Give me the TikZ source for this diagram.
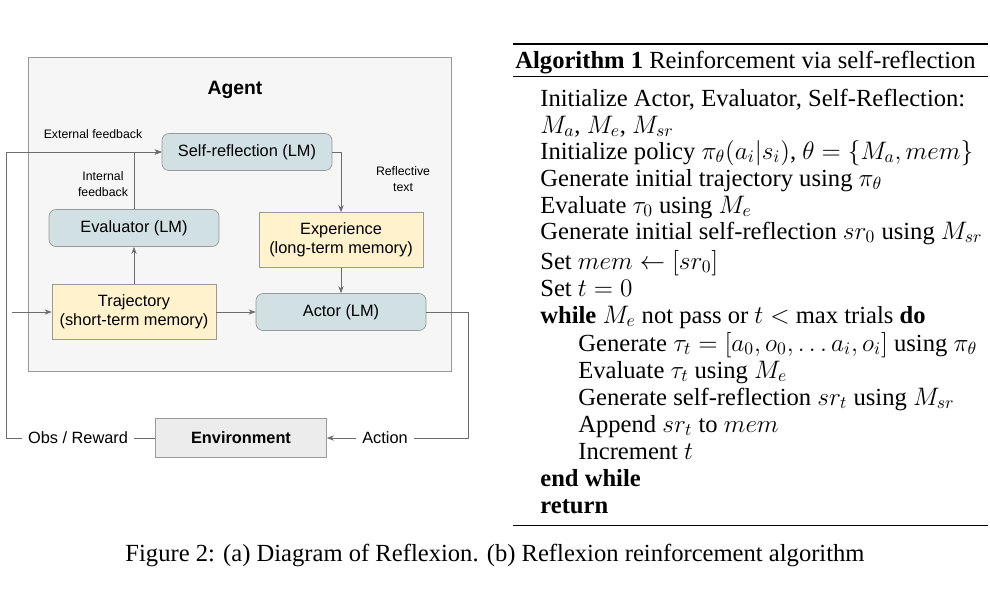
\documentclass[tikz,border=0pt]{standalone}
\usepackage{fontspec}
\setmainfont{Liberation Serif}
\newfontfamily\arial{Liberation Sans}
\usetikzlibrary{arrows.meta}
\definecolor{lmblue}{HTML}{D0E0E3}
\definecolor{memyellow}{HTML}{FFF2CC}
\tikzset{
  lmbox/.style={draw=gray!80,fill=lmblue,rounded corners=4pt,minimum width=170\px,minimum height=37\px,font=\arial\fontsize{9.3}{11}\selectfont},
  membox/.style={draw=gray!80,fill=memyellow,minimum width=164\px,minimum height=55\px,align=center,font=\arial\fontsize{9.3}{11}\selectfont},
  lab/.style={font=\arial\fontsize{7}{9}\selectfont,align=center},
  flow/.style={draw=gray!85!black,-{Stealth[length=4pt,width=3pt]}},
  algline/.style={anchor=base west,inner sep=0pt,font=\fontsize{14}{16}\selectfont},
}
\newlength\px \setlength\px{0.02cm}
\begin{document}
\begin{tikzpicture}[x=0.02cm,y=-0.02cm]
  \useasboundingbox (0,0) rectangle (990,600);
  % agent frame
  \draw[gray!80,fill=gray!7] (28,57) rectangle (451,371);
  \node[font=\arial\bfseries\fontsize{11}{13}\selectfont] (agent) at (235,90) {Agent};
  \node[lmbox] (sr) at (247,152) {Self-reflection (LM)};
  \node[lmbox] (ev) at (134,228) {Evaluator (LM)};
  \node[membox] (exp) at (341,240) {Experience\\(long-term memory)};
  \node[membox] (traj) at (134,312) {Trajectory\\(short-term memory)};
  \node[lmbox] (act) at (341,312) {Actor (LM)};
  \node[draw=gray!80,fill=gray!15,minimum width=171\px,minimum height=39\px,font=\arial\bfseries\fontsize{9.3}{11}\selectfont] (env) at (241,438) {Environment};
  % labels
  \node[lab] (ext) at (93,134) {External feedback};
  \node[lab] (int) at (103,184) {Internal\\feedback};
  \node[lab] (refl) at (403,179) {Reflective\\text};
  \node[font=\arial\fontsize{9.3}{11}\selectfont] (obs) at (78,438) {Obs / Reward};
  \node[font=\arial\fontsize{9.3}{11}\selectfont] (acn) at (385,438) {Action};
  \coordinate (tl) at (6,152);
  \coordinate (bl) at (6,438);
  \coordinate (ml) at (12,312);
  \coordinate (ar) at (468,312);
  \coordinate (br) at (468,438);
  % connectors
  \draw[flow] (bl) -- (tl) -- (sr.west);
  \draw[flow] (ev.north) -- (134,152) -- (sr.west);
  \draw[flow] (sr.east) -| (exp.north);
  \draw[flow] (exp.south) -- (act.north);
  \draw[flow] (traj.north) -- (ev.south);
  \draw[flow] (traj.east) -- (act.west);
  \draw[flow] (ml) -- (traj.west);
  \draw[gray!85!black] (act.east) -- (ar) -- (br) -- (acn.east);
  \draw[flow] (acn.west) -- (env.east);
  \draw[gray!85!black] (env.west) -- (obs.east);
  \draw[gray!85!black] (obs.west) -- (bl);
  % algorithm
  \draw[line width=0.8pt] (513,44) -- (988,44);
  \draw[line width=0.5pt] (513,76) -- (988,76);
  \draw[line width=0.5pt] (513,525) -- (988,525);
  \node[algline] (title) at (515,68) {\textbf{Algorithm 1} Reinforcement via self-reflection};
  \foreach \y/\x/\t [count=\i] in {
    106/540/{Initialize Actor, Evaluator, Self-Reflection:},
    133/540/{$M_a$, $M_e$, $M_{sr}$},
    159/540/{Initialize policy $\pi_\theta(a_i|s_i)$, $\theta=\{M_a, mem\}$},
    186/540/{Generate initial trajectory using $\pi_\theta$},
    213/540/{Evaluate $\tau_0$ using $M_e$},
    239/540/{Generate initial self-reflection $sr_0$ using $M_{sr}$},
    269/540/{Set $mem \leftarrow [sr_0]$},
    296/540/{Set $t=0$},
    323/540/{\textbf{while} $M_e$ not pass or $t <$ max trials \textbf{do}},
    351/578/{Generate $\tau_t=[a_0,o_0,\dots a_i,o_i]$ using $\pi_\theta$},
    378/578/{Evaluate $\tau_t$ using $M_e$},
    405/578/{Generate self-reflection $sr_t$ using $M_{sr}$},
    432/578/{Append $sr_t$ to $mem$},
    459/578/{Increment $t$},
    486/540/{\textbf{end while}},
    513/540/{\textbf{return}}}
    \node[algline] (l\i) at (\x,\y) {\t};
  \node[font=\fontsize{14}{16}\selectfont] (cap) at (495,555) {Figure 2: (a) Diagram of Reflexion. (b) Reflexion reinforcement algorithm};
\end{tikzpicture}
\end{document}
